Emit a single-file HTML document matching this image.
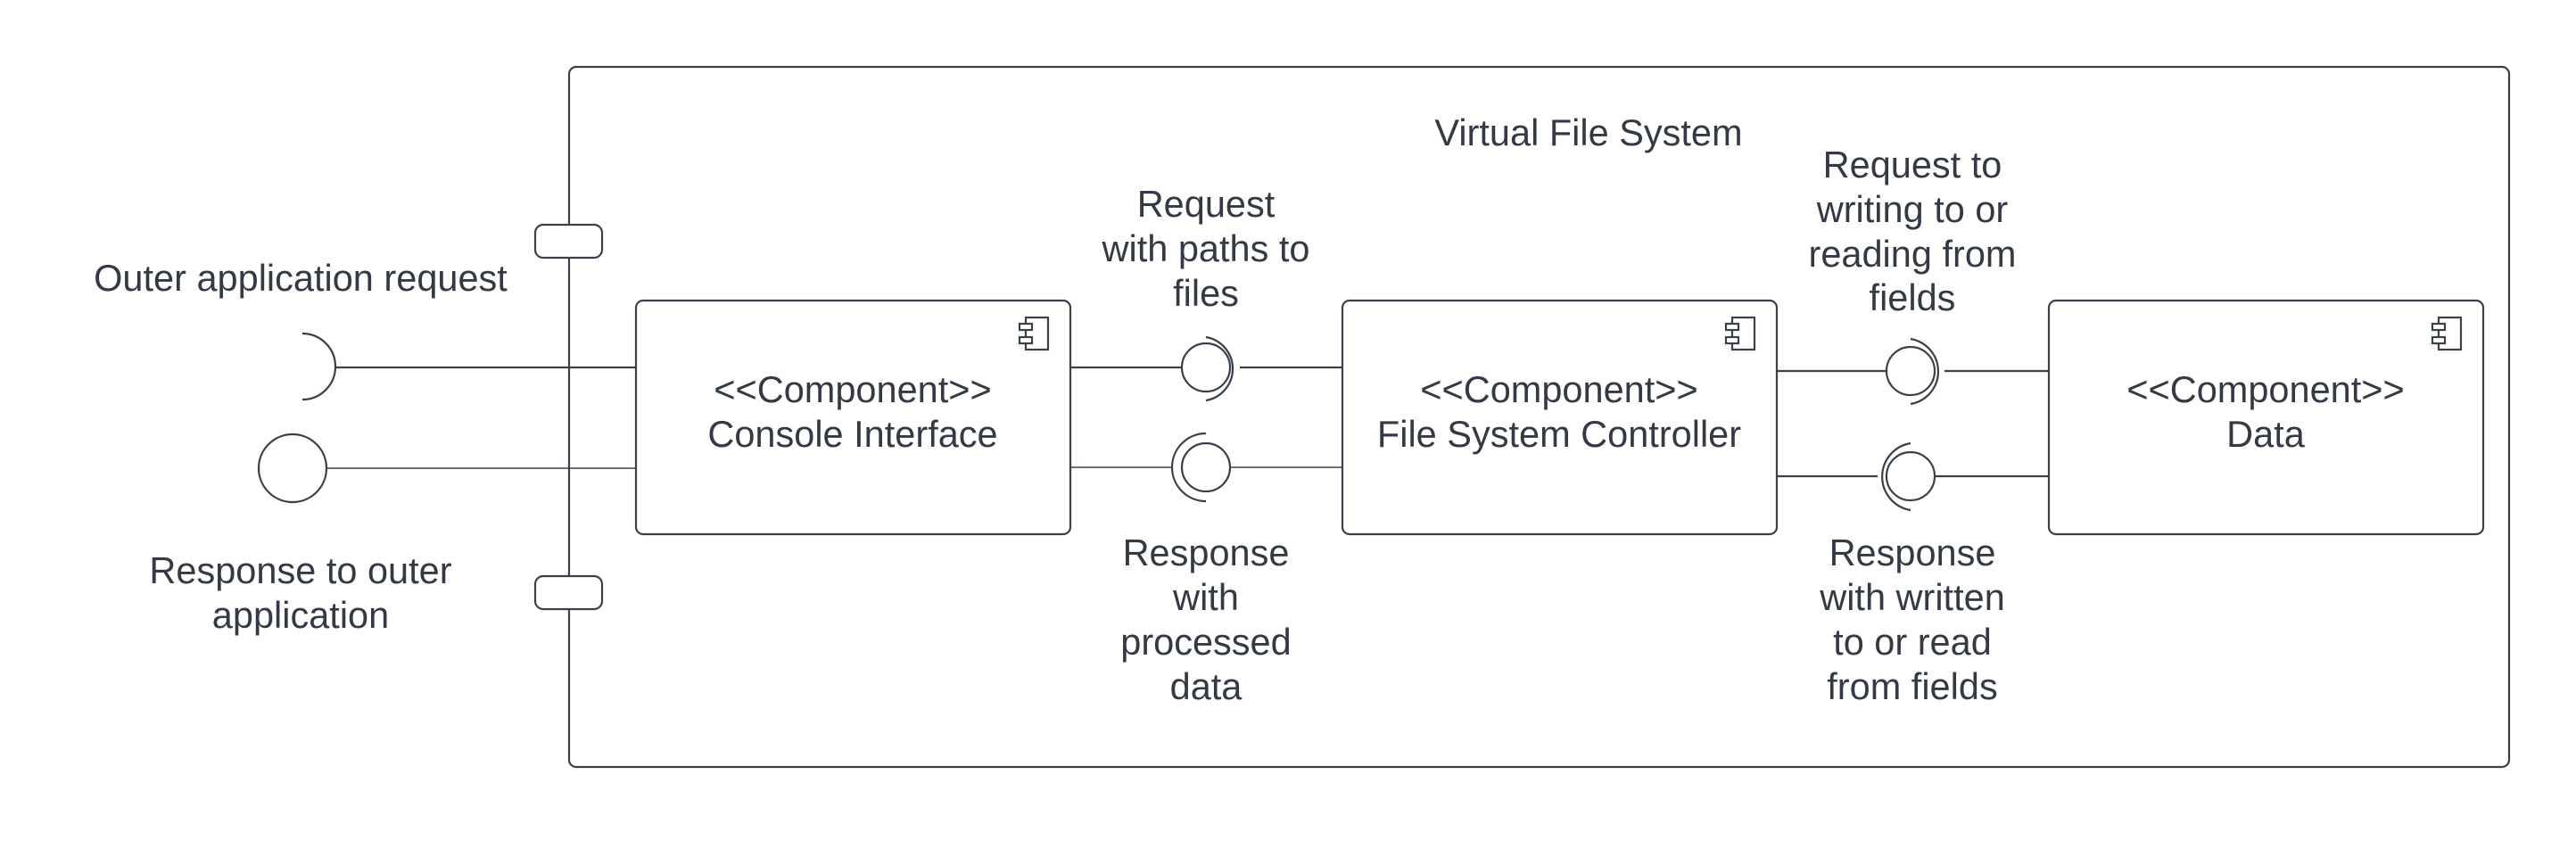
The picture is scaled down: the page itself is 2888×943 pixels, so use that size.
<!DOCTYPE html>
<html><head><meta charset="utf-8"><style>
html,body{margin:0;padding:0;background:#fff;}
svg text{font-family:"Liberation Sans",sans-serif;font-size:41.5px;fill:#343a45;text-anchor:middle;}
</style></head><body>
<svg width="2888" height="938" viewBox="0 0 2888 938" xmlns="http://www.w3.org/2000/svg">
<g fill="none" stroke="#3a404b" stroke-width="2.2">
<rect x="638" y="75" width="2175" height="785" rx="8"/>
<rect x="600" y="252" width="75" height="37" rx="9" fill="#fff"/>
<rect x="600" y="646" width="75" height="37" rx="9" fill="#fff"/>
<rect x="713" y="337" width="487" height="262" rx="8"/>
<rect x="1505" y="337" width="487" height="262" rx="8"/>
<rect x="2297" y="337" width="487" height="262" rx="8"/>
<g id="ic"><rect x="1150" y="356" width="25" height="36"/><rect x="1143" y="363" width="14" height="7" fill="#fff"/><rect x="1143" y="378" width="14" height="7" fill="#fff"/></g>
<use href="#ic" transform="translate(792,0)"/>
<use href="#ic" transform="translate(1584,0)"/>
<path d="M339 374 A37 37 0 0 1 339 448"/>
<line x1="376" y1="412" x2="713" y2="412"/>
<circle cx="328" cy="525" r="38"/>
<line x1="366" y1="525" x2="713" y2="525" stroke-width="1.5"/>
<line x1="1200" y1="412" x2="1325" y2="412"/>
<circle cx="1352" cy="412" r="27"/>
<path d="M1352 378 A36 36 0 0 1 1352 449"/>
<line x1="1390" y1="412" x2="1505" y2="412"/>
<line x1="1200" y1="524" x2="1315" y2="524" stroke-width="1.5"/>
<circle cx="1352" cy="524" r="27"/>
<path d="M1352 486 A38 38 0 0 0 1352 562"/>
<line x1="1379" y1="524" x2="1505" y2="524" stroke-width="1.5"/>
<line x1="1992" y1="416" x2="2115" y2="416"/>
<circle cx="2142" cy="416" r="27"/>
<path d="M2142 380 A37 37 0 0 1 2142 453"/>
<line x1="2180" y1="416" x2="2297" y2="416"/>
<line x1="1992" y1="534" x2="2105" y2="534"/>
<circle cx="2142" cy="534" r="27"/>
<path d="M2142 497 A38 38 0 0 0 2142 572"/>
<line x1="2169" y1="534" x2="2297" y2="534"/>
</g>
<text x="1781" y="163">Virtual File System</text>
<text x="337" y="326">Outer application request</text>
<text x="337" y="654">Response to outer</text>
<text x="337" y="704">application</text>
<text x="956" y="451">&lt;&lt;Component&gt;&gt;</text>
<text x="956" y="501">Console Interface</text>
<text x="1748" y="451">&lt;&lt;Component&gt;&gt;</text>
<text x="1748" y="501">File System Controller</text>
<text x="2540" y="451">&lt;&lt;Component&gt;&gt;</text>
<text x="2540" y="501">Data</text>
<text x="1352" y="243">Request</text>
<text x="1352" y="293">with paths to</text>
<text x="1352" y="343">files</text>
<text x="1352" y="634">Response</text>
<text x="1352" y="684">with</text>
<text x="1352" y="734">processed</text>
<text x="1352" y="784">data</text>
<text x="2144" y="199">Request to</text>
<text x="2144" y="249">writing to or</text>
<text x="2144" y="299">reading from</text>
<text x="2144" y="348">fields</text>
<text x="2144" y="634">Response</text>
<text x="2144" y="684">with written</text>
<text x="2144" y="734">to or read</text>
<text x="2144" y="784">from fields</text>
</svg>
</body></html>
